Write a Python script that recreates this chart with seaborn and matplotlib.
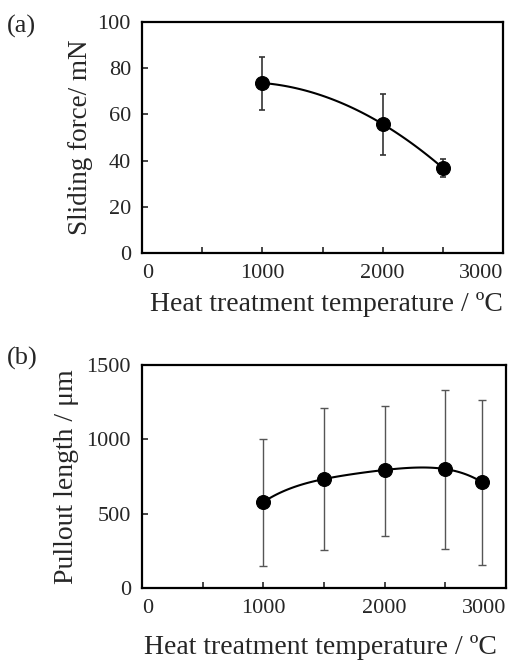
import numpy as np
import pandas as pd
import matplotlib.pyplot as plt
from matplotlib.ticker import MultipleLocator
import seaborn as sns

# (a) sliding force vs heat treatment temperature
temp_a = [1000, 2000, 2500]
force = [73.6, 55.8, 36.8]
force_hi = [84.8, 68.8, 40.7]
force_lo = [61.9, 42.4, 32.9]

# (b) pullout length vs heat treatment temperature
temp_b = [1000, 1500, 2000, 2500, 2800]
pullout = [578, 733, 794, 800, 713]
pullout_hi = [1002, 1211, 1224, 1332, 1265]
pullout_lo = [148, 256, 350, 262, 155]

df_a = pd.DataFrame({'T': temp_a, 'F': force})
df_b = pd.DataFrame({'T': temp_b, 'L': pullout})

sns.set_style('ticks')
plt.rcParams['font.family'] = ['Liberation Serif', 'DejaVu Serif']
plt.rcParams['mathtext.fontset'] = 'stix'

fig = plt.figure(figsize=(5.19, 6.72), dpi=100)
ax1 = fig.add_axes([0.2736, 0.6235, 0.6956, 0.3438])
ax2 = fig.add_axes([0.2736, 0.125, 0.7013, 0.3318])


def style_axis(ax, ymax, ystep):
    ax.set_xlim(0, 3000)
    ax.set_ylim(0, ymax)
    ax.xaxis.set_minor_locator(MultipleLocator(500))
    ax.yaxis.set_major_locator(MultipleLocator(ystep))
    ax.tick_params(which='both', direction='in', length=4, width=1.2,
                   labelsize=16, top=False, right=False, pad=8)
    for s in ax.spines.values():
        s.set_linewidth(1.6)
        s.set_color('black')
    ax.set_xticks([0, 1000, 2000, 3000])
    ax.set_xticklabels(['0', '1000', '2000', '3000'])
    lbl = ax.get_xticklabels()
    lbl[0].set_ha('left')
    lbl[-1].set_ha('right')


# panel (a)
sns.regplot(data=df_a, x='T', y='F', order=2, ci=None, scatter=False,
            truncate=True, color='black', line_kws={'linewidth': 1.5}, ax=ax1)
ax1.errorbar(temp_a, force,
             yerr=[np.array(force) - np.array(force_lo), np.array(force_hi) - np.array(force)],
             fmt='none', ecolor='#333333', elinewidth=1.2, capsize=2.5, capthick=1.2)
sns.scatterplot(data=df_a, x='T', y='F', color='black', s=100, edgecolor='black',
                ax=ax1, zorder=5)
style_axis(ax1, 100, 20)
ax1.set_xlabel('Heat treatment temperature / ºC', fontsize=20)
ax1.set_ylabel('Sliding force/ mN', fontsize=19.5)
ax1.xaxis.set_label_coords(0.51, -0.17)
ax1.yaxis.set_label_coords(-0.136, 0.5)

# panel (b)
sns.regplot(data=df_b, x='T', y='L', order=4, ci=None, scatter=False,
            truncate=True, color='black', line_kws={'linewidth': 1.5}, ax=ax2)
ax2.errorbar(temp_b, pullout,
             yerr=[np.array(pullout) - np.array(pullout_lo), np.array(pullout_hi) - np.array(pullout)],
             fmt='none', ecolor='#555555', elinewidth=1.0, capsize=3, capthick=1.0)
sns.scatterplot(data=df_b, x='T', y='L', color='black', s=100, edgecolor='black',
                ax=ax2, zorder=5)
style_axis(ax2, 1500, 500)
ax2.set_xlabel('Heat treatment temperature / ºC', fontsize=20)
ax2.set_ylabel('Pullout length / μm', fontsize=20)
ax2.xaxis.set_label_coords(0.49, -0.212)
ax2.yaxis.set_label_coords(-0.172, 0.5)

fig.text(0.014, 0.978, '(a)', fontsize=19, va='top')
fig.text(0.014, 0.484, '(b)', fontsize=19, va='top')

fig.savefig('out.png', dpi=100)
